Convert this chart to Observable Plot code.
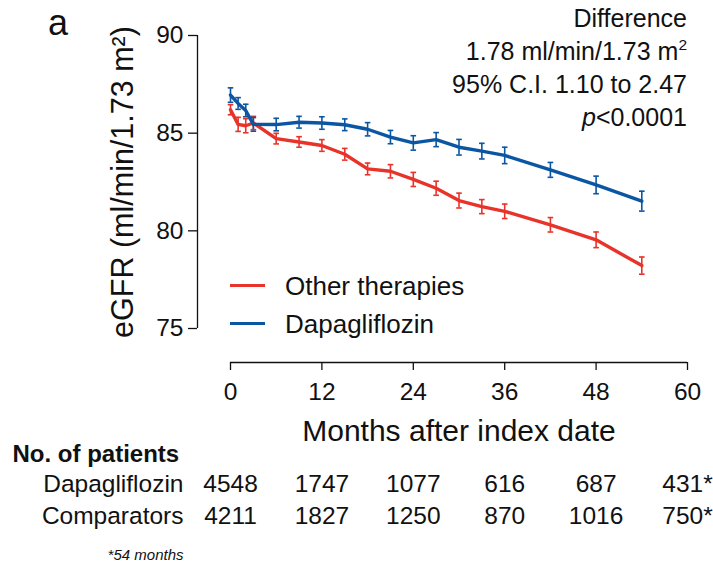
<!DOCTYPE html>
<html>
<head>
<meta charset="utf-8">
<script src="https://cdn.jsdelivr.net/npm/d3@7"></script>
<script src="https://cdn.jsdelivr.net/npm/@observablehq/plot@0.6"></script>
<style>
  html, body { margin: 0; padding: 0; background: #fff; }
  #wrap { position: relative; width: 713px; height: 566px; font-family: "Liberation Sans", Arial, sans-serif; color: #111; }
  #wrap svg { position: absolute; left: 0; top: 0; }
  .ov { position: absolute; white-space: nowrap; }
  .panel { left: 48px; top: 5px; font-size: 36px; line-height: 36px; }
  .annot { right: 26px; top: 2px; font-size: 25px; line-height: 33px; text-align: right; }
  .annot sup { font-size: 0.62em; line-height: 0; vertical-align: 0.62em; }
  .leg { font-size: 26px; line-height: 26px; left: 285px; }
  .sw { position: absolute; left: 230px; width: 35px; height: 3px; }
</style>
</head>
<body>
<div id="wrap"></div>
<script>
// ---- data ----
const months = [0, 1, 2, 3, 6, 9, 12, 15, 18, 21, 24, 27, 30, 33, 36, 42, 48, 54];
const otherValues = [86.2, 85.45, 85.38, 85.52, 84.72, 84.55, 84.37, 83.92, 83.17, 83.05, 82.63, 82.18, 81.55, 81.24, 81.0, 80.31, 79.54, 78.22];
const otherErr    = [0.26, 0.36, 0.36, 0.34, 0.27, 0.27, 0.3, 0.3, 0.3, 0.34, 0.36, 0.36, 0.38, 0.36, 0.37, 0.37, 0.4, 0.44];
const dapaValues  = [86.95, 86.52, 86.16, 85.45, 85.44, 85.56, 85.52, 85.43, 85.2, 84.8, 84.5, 84.67, 84.28, 84.08, 83.86, 83.12, 82.35, 81.52];
const dapaErr     = [0.37, 0.3, 0.32, 0.35, 0.32, 0.3, 0.32, 0.3, 0.34, 0.34, 0.37, 0.36, 0.4, 0.4, 0.42, 0.38, 0.45, 0.51];
const seriesNames = ["Other therapies", "Dapagliflozin"];
const xTicks = [0, 12, 24, 36, 48, 60];
const yTicks = [75, 80, 85, 90];
const riskMonths = [0, 12, 24, 36, 48, 60];
const riskDapa = ["4548", "1747", "1077", "616", "687", "431*"];
const riskComp = ["4211", "1827", "1250", "870", "1016", "750*"];
const riskLabels = ["Dapagliflozin", "Comparators"];
const xLabel = "Months after index date";
const yLabel = "eGFR (ml/min/1.73 m\u00B2)";

const RED = "#e8332b", BLUE = "#0b56a3";
const xDomain = [0, 60], yDomain = [75, 90];

const rows = [];
months.forEach((m, i) => rows.push({month: m, value: otherValues[i], err: otherErr[i], group: seriesNames[0]}));
months.forEach((m, i) => rows.push({month: m, value: dapaValues[i], err: dapaErr[i], group: seriesNames[1]}));

const riskRows = [];
riskMonths.forEach((m, i) => riskRows.push({month: m, n: riskDapa[i], row: 0}));
riskMonths.forEach((m, i) => riskRows.push({month: m, n: riskComp[i], row: 1}));

const capSymbol = {
  draw(context, size) {
    const w = Math.sqrt(size / Math.PI);
    context.moveTo(-w, 0);
    context.lineTo(w, 0);
  }
};

const AX = -33, AY = 34; // offset axes

const chart = Plot.plot({
  width: 713,
  height: 566,
  marginLeft: 230,
  marginRight: 26,
  marginTop: 35,
  marginBottom: 238,
  style: {fontFamily: "Liberation Sans, Arial, sans-serif", fontSize: "24px", color: "#111", background: "transparent"},
  x: {domain: xDomain},
  y: {domain: yDomain},
  color: {domain: seriesNames, range: [RED, BLUE]},
  marks: [
    // offset axes
    Plot.ruleX([xDomain[0]], {y1: yDomain[0], y2: yDomain[1], dx: AX, strokeWidth: 1.3}),
    Plot.axisY({ticks: yTicks, tickSize: 9, tickPadding: 5, dx: AX, label: null, fontSize: 24.5, strokeWidth: 1.3}),
    Plot.ruleY([yDomain[0]], {x1: xDomain[0], x2: xDomain[1], dy: AY, strokeWidth: 1.3}),
    Plot.axisX({ticks: xTicks, tickSize: 8, tickPadding: 12, dy: AY, label: null, fontSize: 24.5, strokeWidth: 1.3}),
    // axis titles
    Plot.text([xLabel], {text: d => d, frameAnchor: "bottom", lineAnchor: "bottom", dy: 112, fontSize: 30}),
    Plot.text([yLabel], {text: d => d, frameAnchor: "left", rotate: -90, textAnchor: "middle", lineAnchor: "middle", dx: -107, fontSize: 30.5}),
    // error bars
    Plot.ruleX(rows, {x: "month", y1: d => d.value - d.err, y2: d => d.value + d.err, stroke: "group", strokeWidth: 1.6}),
    Plot.dot(rows, {x: "month", y: d => d.value + d.err, symbol: capSymbol, r: 2.8, stroke: "group", strokeWidth: 1.6}),
    Plot.dot(rows, {x: "month", y: d => d.value - d.err, symbol: capSymbol, r: 2.8, stroke: "group", strokeWidth: 1.6}),
    // lines
    Plot.line(rows, {x: "month", y: "value", z: "group", stroke: "group", strokeWidth: 3.4, curve: "linear"}),
    // number at risk table
    Plot.text(["No. of patients"], {text: d => d, frameAnchor: "bottom-left", textAnchor: "start", lineAnchor: "bottom", dx: -218, dy: 133, fontSize: 24, fontWeight: "bold"}),
    Plot.text([riskLabels[0]], {text: d => d, frameAnchor: "bottom-left", textAnchor: "end", lineAnchor: "bottom", dx: -47, dy: 163, fontSize: 24.5}),
    Plot.text([riskLabels[1]], {text: d => d, frameAnchor: "bottom-left", textAnchor: "end", lineAnchor: "bottom", dx: -47, dy: 195, fontSize: 24.5}),
    Plot.text(riskRows.filter(d => d.row === 0), {x: "month", text: "n", frameAnchor: "bottom", textAnchor: "middle", lineAnchor: "bottom", dy: 163, fontSize: 24.5}),
    Plot.text(riskRows.filter(d => d.row === 1), {x: "month", text: "n", frameAnchor: "bottom", textAnchor: "middle", lineAnchor: "bottom", dy: 195, fontSize: 24.5}),
    Plot.text(["*54 months"], {text: d => d, frameAnchor: "bottom-left", textAnchor: "end", lineAnchor: "bottom", dx: -47, dy: 231, fontSize: 15, fontStyle: "italic"})
  ]
});

const wrap = document.getElementById("wrap");
wrap.appendChild(chart);
wrap.insertAdjacentHTML("beforeend", `
  <div class="ov panel">a</div>
  <div class="ov annot">Difference<br>1.78 ml/min/1.73 m<sup>2</sup><br>95% C.I. 1.10 to 2.47<br><i>p</i>&lt;0.0001</div>
  <div class="sw" style="top:283.5px;background:${RED}"></div>
  <div class="ov leg" style="top:273px">${seriesNames[0]}</div>
  <div class="sw" style="top:321.5px;background:${BLUE}"></div>
  <div class="ov leg" style="top:311px">${seriesNames[1]}</div>
`);
</script>
</body>
</html>
